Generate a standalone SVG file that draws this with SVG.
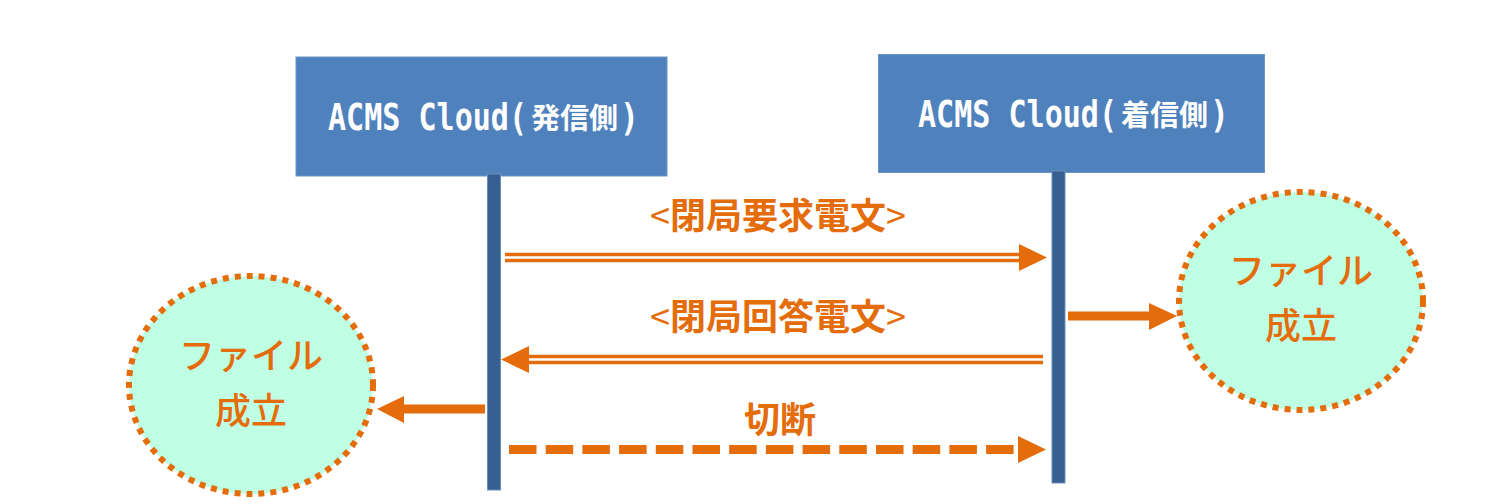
<svg xmlns="http://www.w3.org/2000/svg" width="1500" height="504" viewBox="0 0 1500 504">
<style>
.box{fill:#4f81bd;stroke:#6b95c8;stroke-width:1}
.life{fill:#366092;stroke:#6b8fbc;stroke-width:1}
.head{fill:#fff;font-family:"Noto Sans CJK JP","Noto Sans",sans-serif}
.lat{font-family:"DejaVu Sans Mono","Noto Sans CJK JP",monospace;font-size:38px;font-weight:700}
.cjk{font-size:29px;font-weight:700}
.lab{fill:#e46c0a;font-family:"Noto Sans CJK JP",sans-serif;font-size:36px;font-weight:700;text-anchor:middle}
.thin{font-weight:400}
.cir{fill:#bfffe3;stroke:#e46c0a;stroke-width:6;stroke-dasharray:6 6}
.note{fill:#e46c0a;font-family:"Noto Sans CJK JP",sans-serif;font-size:36px;font-weight:500;text-anchor:middle}
.line{fill:none;stroke:#e46c0a}
.ah{fill:#e46c0a}
</style>
<g id="sender">
<rect class="box" x="296" y="57" width="371" height="119"/>
<text class="head" x="328" y="130"><tspan class="lat" textLength="199" lengthAdjust="spacingAndGlyphs">ACMS Cloud(</tspan><tspan class="cjk" x="531" y="129">発信側</tspan><tspan class="lat" x="620" y="130" textLength="19" lengthAdjust="spacingAndGlyphs">)</tspan></text>
<rect class="life" x="487.500" y="174" width="13" height="316"/>
</g>
<g id="receiver">
<rect class="box" x="878.500" y="54.500" width="386" height="118"/>
<text class="head" x="918" y="127"><tspan class="lat" textLength="199" lengthAdjust="spacingAndGlyphs">ACMS Cloud(</tspan><tspan class="cjk" x="1121" y="126">着信側</tspan><tspan class="lat" x="1210" y="127" textLength="19" lengthAdjust="spacingAndGlyphs">)</tspan></text>
<rect class="life" x="1052" y="171" width="13" height="312"/>
</g>
<g id="result-left">
<ellipse class="cir" cx="251" cy="385" rx="122" ry="109"/>
<text class="note" x="251" y="369">ファイル</text>
<text class="note" x="251" y="424">成立</text>
</g>
<g id="result-right">
<ellipse class="cir" cx="1301" cy="301" rx="122" ry="109"/>
<text class="note" x="1301" y="284">ファイル</text>
<text class="note" x="1301" y="339">成立</text>
</g>
<g id="connectors">
<path class="line" stroke-width="3.500" d="M505 254.500H1020M505 260.500H1020"/>
<polygon class="ah" points="1019,244 1047,257.500 1019,271"/>
<path class="line" stroke-width="3.500" d="M1043 356.500H528M1043 362.500H528"/>
<polygon class="ah" points="529,346 501,359.500 529,373"/>
<path class="line" stroke-width="9" stroke-dasharray="27.500 9.200" d="M509 449.500H1015"/>
<polygon class="ah" points="1018,436 1046,449.500 1018,463"/>
<path class="line" stroke-width="9" d="M1068 316H1152"/>
<polygon class="ah" points="1149,303 1177,316 1149,330"/>
<path class="line" stroke-width="9" d="M485 409H402"/>
<polygon class="ah" points="404,396 377,409 404,423"/>
</g>
<g id="labels">
<text class="lab" x="778" y="229" textLength="256" lengthAdjust="spacing"><tspan class="thin">&lt;</tspan>閉局要求電文<tspan class="thin">&gt;</tspan></text>
<text class="lab" x="778" y="330" textLength="256" lengthAdjust="spacing"><tspan class="thin">&lt;</tspan>閉局回答電文<tspan class="thin">&gt;</tspan></text>
<text class="lab" x="780" y="433">切断</text>
</g>
</svg>
